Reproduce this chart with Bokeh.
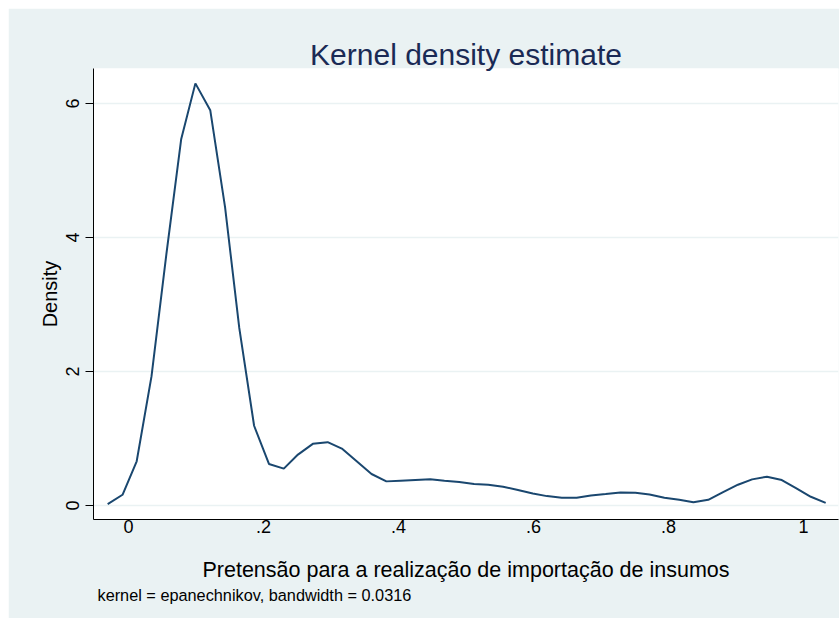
from bokeh.plotting import figure
from bokeh.models import Range1d, FixedTicker, Title
from bokeh.embed import file_html
from bokeh.resources import INLINE

# Evaluation grid and estimated density
x_grid = [-0.031, -0.009, 0.012, 0.034, 0.056, 0.078, 0.099, 0.121, 0.143, 0.164,
          0.186, 0.208, 0.230, 0.251, 0.273, 0.295, 0.316, 0.338, 0.360, 0.382,
          0.403, 0.425, 0.447, 0.468, 0.490, 0.512, 0.533, 0.555, 0.577, 0.599,
          0.620, 0.642, 0.664, 0.685, 0.707, 0.729, 0.751, 0.772, 0.794, 0.816,
          0.837, 0.859, 0.881, 0.903, 0.924, 0.946, 0.968, 0.989, 1.011, 1.033]
density = [0.02, 0.16, 0.66, 1.93, 3.75, 5.47, 6.30, 5.90, 4.45, 2.65,
           1.19, 0.62, 0.55, 0.76, 0.92, 0.945, 0.85, 0.66, 0.47, 0.36,
           0.37, 0.38, 0.39, 0.37, 0.35, 0.32, 0.31, 0.28, 0.23, 0.18,
           0.14, 0.115, 0.115, 0.15, 0.17, 0.195, 0.19, 0.165, 0.115, 0.085,
           0.05, 0.085, 0.20, 0.31, 0.39, 0.43, 0.38, 0.26, 0.13, 0.04]

x_ticks = [0, 0.2, 0.4, 0.6, 0.8, 1]
x_tick_labels = ["0", ".2", ".4", ".6", ".8", "1"]
y_ticks = [0, 2, 4, 6]

title_text = "Kernel density estimate"
x_label = "Pretensão para a realização de importação de insumos"
y_label = "Density"
note_text = "kernel = epanechnikov, bandwidth = 0.0316"

BG = "#EAF2F3"
LINE = "#1A476F"
FONT = "Liberation Sans"

p = figure(width=831, height=610, output_backend="svg", toolbar_location=None,
           x_range=Range1d(-0.052, 1.052), y_range=Range1d(-0.209, 6.522),
           min_border_left=85, min_border_right=1, min_border_top=60,
           min_border_bottom=99)
p.margin = (8, 0, 0, 8)
p.border_fill_color = BG
p.background_fill_color = "white"
p.outline_line_color = None

p.line(x_grid, density, line_color=LINE, line_width=2)

p.title.text = title_text
p.title.align = "center"
p.title.text_font = FONT
p.title.text_font_size = "30px"
p.title.text_font_style = "normal"
p.title.text_color = "#1A2A55"
p.title.standoff = -4

# x axis
xa = p.xaxis[0]
xa.ticker = FixedTicker(ticks=x_ticks)
xa.major_label_overrides = {t: l for t, l in zip(x_ticks, x_tick_labels)}
xa.major_tick_out = 0
xa.major_tick_in = 0
xa.minor_tick_out = 0
xa.minor_tick_in = 0
xa.major_label_standoff = 0
xa.major_label_text_font = FONT
xa.major_label_text_font_size = "18px"
xa.major_label_text_color = "black"
xa.axis_label = x_label
xa.axis_label_text_font = FONT
xa.axis_label_text_font_size = "21.5px"
xa.axis_label_text_font_style = "normal"
xa.axis_label_text_color = "black"
xa.axis_label_standoff = 22
xa.axis_line_color = "black"

# y axis
ya = p.yaxis[0]
ya.ticker = FixedTicker(ticks=y_ticks)
ya.major_tick_out = 8
ya.major_tick_in = 0
ya.minor_tick_out = 0
ya.minor_tick_in = 0
ya.major_label_orientation = "vertical"
ya.major_label_standoff = 6
ya.major_label_text_font = FONT
ya.major_label_text_font_size = "18px"
ya.major_label_text_color = "black"
ya.axis_label = y_label
ya.axis_label_text_font = FONT
ya.axis_label_text_font_size = "20px"
ya.axis_label_text_font_style = "normal"
ya.axis_label_text_color = "black"
ya.axis_label_standoff = 3
ya.axis_line_color = "black"

p.xgrid.grid_line_color = None
p.ygrid.ticker = FixedTicker(ticks=y_ticks)
p.ygrid.grid_line_color = BG
p.ygrid.grid_line_width = 1.5

note = Title(text=note_text, align="left", offset=4, text_font=FONT,
             text_font_size="16.3px", text_font_style="normal", text_color="black",
             standoff=-1)
p.add_layout(note, "below")

open("out.html", "w").write(file_html(p, INLINE))
